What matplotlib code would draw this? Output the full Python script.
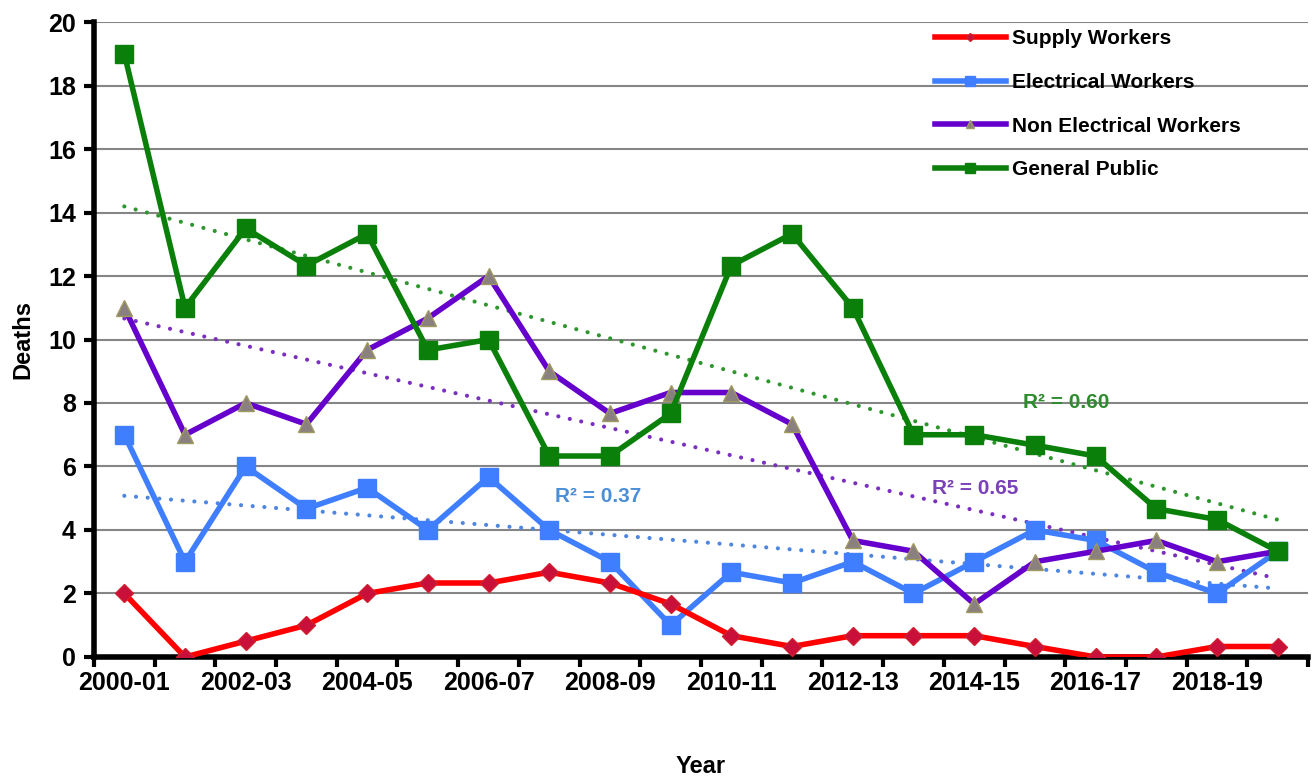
import numpy as np
import matplotlib.pyplot as plt

years = ['2000-01', '2001-02', '2002-03', '2003-04', '2004-05', '2005-06', '2006-07',
         '2007-08', '2008-09', '2009-10', '2010-11', '2011-12', '2012-13', '2013-14',
         '2014-15', '2015-16', '2016-17', '2017-18', '2018-19', '2019-20']

supply = [2, 0, 0.5, 1, 2, 2.33, 2.33, 2.67, 2.33, 1.67,
          0.67, 0.33, 0.67, 0.67, 0.67, 0.33, 0, 0, 0.33, 0.33]
electrical = [7, 3, 6, 4.67, 5.33, 4, 5.67, 4, 3, 1,
              2.67, 2.33, 3, 2, 3, 4, 3.67, 2.67, 2, 3.33]
non_electrical = [11, 7, 8, 7.33, 9.67, 10.67, 12, 9, 7.67, 8.33,
                  8.33, 7.33, 3.67, 3.33, 1.67, 3, 3.33, 3.67, 3, 3.33]
public = [19, 11, 13.5, 12.33, 13.33, 9.67, 10, 6.33, 6.33, 7.67,
          12.33, 13.33, 11, 7, 7, 6.67, 6.33, 4.67, 4.33, 3.33]

r2_labels = {'electrical': 'R² = 0.37', 'non_electrical': 'R² = 0.65', 'public': 'R² = 0.60'}

plt.rcParams['font.family'] = ['Liberation Sans', 'DejaVu Sans']
plt.rcParams['font.weight'] = 'bold'

fig = plt.figure(figsize=(13.14, 7.81), dpi=100)
ax = fig.add_axes([0.0715, 0.1588, 0.924, 0.813])

x = np.arange(len(years))

# trendlines (linear fits), drawn under the series
for vals, col in [(electrical, '#4f86e0'), (non_electrical, '#7a2fc0'), (public, '#2e962e')]:
    k, m = np.polyfit(x, vals, 1)
    ax.plot(x, k*x + m, color=col, lw=3, linestyle=(0, (0.01, 2.8)),
            dash_capstyle='round', zorder=2)

ax.plot(x, supply, color='#ff0000', lw=4, marker='D', ms=9,
        mfc='#c8103a', mec='#d02030', label='Supply Workers', zorder=4)
ax.plot(x, electrical, color='#3f7fff', lw=4, marker='s', ms=13,
        mfc='#3f7fff', mec='#3f7fff', label='Electrical Workers', zorder=3)
ax.plot(x, non_electrical, color='#6600cc', lw=4, marker='^', ms=11,
        mfc='#8a8080', mec='#a09a60', label='Non Electrical Workers', zorder=3)
ax.plot(x, public, color='#0a7f0a', lw=4, marker='s', ms=13,
        mfc='#0a7f0a', mec='#0a7f0a', label='General Public', zorder=3)

ax.text(7.1, 5.05, r2_labels['electrical'], color='#4a8fd8', fontsize=15,
        fontweight='bold', va='center')
ax.text(13.3, 5.32, r2_labels['non_electrical'], color='#7a40b8', fontsize=15,
        fontweight='bold', va='center')
ax.text(14.8, 8.0, r2_labels['public'], color='#2e8b2e', fontsize=15,
        fontweight='bold', va='center')

ax.set_xlim(-0.5, 19.5)
ax.set_ylim(0, 20)
ax.set_yticks(np.arange(0, 21, 2))
ax.set_xticks(x[::2])
ax.set_xticklabels(years[::2])
ax.set_xticks(np.arange(-0.5, 20, 1), minor=True)
ax.tick_params(axis='x', which='major', length=0, labelsize=18, pad=10)
ax.tick_params(axis='x', which='minor', length=7, width=3, direction='out')
ax.tick_params(axis='y', length=7, width=3, labelsize=18, pad=6)
ax.grid(axis='y', color='#858585', lw=1.5)
ax.set_axisbelow(True)
for s in ['top', 'right']:
    ax.spines[s].set_visible(False)
ax.spines['left'].set_linewidth(4)
ax.spines['bottom'].set_linewidth(4)

ax.set_ylabel('Deaths', fontsize=17, fontweight='bold', labelpad=10)
ax.set_xlabel('Year', fontsize=17, fontweight='bold', labelpad=43)

ax.legend(loc='upper left', bbox_to_anchor=(0.677, 1.018), frameon=False, fontsize=15,
          handlelength=3.4, labelspacing=1.18, markerscale=0.5, handletextpad=0.3)

fig.savefig('out.png', dpi=100)
